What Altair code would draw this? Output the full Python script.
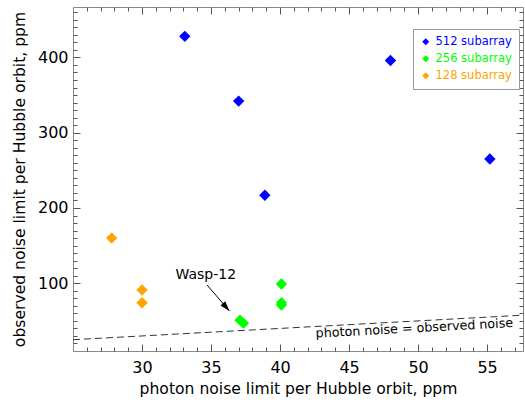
import altair as alt
import pandas as pd

# --- data -------------------------------------------------------------
x512 = [33.1, 37.0, 38.9, 48.0, 55.2]
y512 = [428, 342, 217, 396, 265]
x256 = [37.1, 37.35, 40.1, 40.1, 40.1]
y256 = [51, 47, 99, 74, 71]
x128 = [27.8, 30.0, 30.0]
y128 = [160, 91, 74]
series = ["512 subarray", "256 subarray", "128 subarray"]
colors = ["#0000ff", "#00ff00", "#ffa500"]

x_domain = [25, 57.6]
y_domain = [10, 467]
x_major = [30, 35, 40, 45, 50, 55]
x_minor = [v for v in range(26, 58) if v % 5]
y_major = [100, 200, 300, 400]
y_minor = [v for v in range(20, 467, 10) if v % 100]

# one-to-one reference line
ref_x = [25, 57.6]
ref_label = "photon noise = observed noise"
ref_label_pos = [49.73, 40.2]

# annotation for Wasp-12
wasp_text = "Wasp-12"
wasp_text_pos = [34.62, 110.5]
arrow_x = [34.71, 36.33]
arrow_y = [97.7, 63.2]

FONT = "DejaVu Sans"

pts = pd.DataFrame(
    {
        "x": x512 + x256 + x128,
        "y": y512 + y256 + y128,
        "s": [series[0]] * len(x512) + [series[1]] * len(x256) + [series[2]] * len(x128),
    }
)
ref = pd.DataFrame({"x": ref_x, "y": ref_x})
ref_lab = pd.DataFrame({"x": [ref_label_pos[0]], "y": [ref_label_pos[1]], "t": [ref_label]})
wasp = pd.DataFrame({"x": [wasp_text_pos[0]], "y": [wasp_text_pos[1]], "t": [wasp_text]})
arrow = pd.DataFrame({"x": [arrow_x[0]], "x2": [arrow_x[1]], "y": [arrow_y[0]], "y2": [arrow_y[1]]})
head = pd.DataFrame({"x": [arrow_x[1]], "y": [arrow_y[1]]})

xs = alt.Scale(domain=x_domain, nice=False, zero=False)
ys = alt.Scale(domain=y_domain, nice=False, zero=False)

# legend labels take the colour of their series
label_color_expr = " : ".join(
    f"datum.value === '{s}' ? '{c}'" for s, c in zip(series, colors)
) + " : 'black'"


def tick_axis(orient, values, size, **kw):
    return alt.Axis(
        orient=orient, values=values, offset=-size, tickSize=size,
        labels=False, title=None, domain=False, grid=False, **kw
    )


# main axes with labels and titles, major ticks drawn inward
x_main = alt.Axis(
    orient="bottom", values=x_major, offset=-7, tickSize=7, domain=False, grid=False,
    labelPadding=8, labelFontSize=16, labelFont=FONT, labelColor="black",
    title="photon noise limit per Hubble orbit, ppm", titleFont=FONT,
    titleFontSize=15.6, titleFontWeight="normal", titleColor="black", titlePadding=6,
)
y_main = alt.Axis(
    orient="left", values=y_major, offset=-7, tickSize=7, domain=False, grid=False,
    labelPadding=5, labelFontSize=16, labelFont=FONT, labelColor="black",
    title="observed noise limit per Hubble orbit, ppm", titleFont=FONT,
    titleFontSize=15.6, titleFontWeight="normal", titleColor="black", titlePadding=10,
)

ref_line = alt.Chart(ref).mark_line(
    color="#333333", strokeWidth=1, strokeDash=[7, 4]
).encode(
    x=alt.X("x:Q", scale=xs, axis=x_main),
    y=alt.Y("y:Q", scale=ys, axis=y_main),
)

points = alt.Chart(pts).mark_point(
    shape="diamond", filled=True, size=130, opacity=1
).encode(
    x=alt.X("x:Q", scale=xs, axis=tick_axis("bottom", x_minor, 4)),
    y=alt.Y("y:Q", scale=ys, axis=tick_axis("left", y_minor, 4)),
    color=alt.Color(
        "s:N",
        scale=alt.Scale(domain=series, range=colors),
        legend=alt.Legend(
            title=None, orient="none", legendX=340, legendY=22,
            symbolType="diamond", symbolSize=50, symbolStrokeWidth=0,
            labelFont=FONT, labelFontSize=11.5, labelLimit=200, labelOffset=4,
            labelColor=alt.ExprRef(label_color_expr),
            rowPadding=4, padding=7, fillColor="white", strokeColor="#999999",
        ),
    ),
)

ref_text = alt.Chart(ref_lab).mark_text(
    font=FONT, fontSize=12.7, angle=356.9, align="center", baseline="middle", color="black"
).encode(
    x=alt.X("x:Q", scale=xs, axis=tick_axis("top", x_major, 7)),
    y=alt.Y("y:Q", scale=ys, axis=tick_axis("right", y_major, 7)),
    text="t:N",
)

wasp_label = alt.Chart(wasp).mark_text(
    font=FONT, fontSize=14, align="center", baseline="middle", color="black"
).encode(
    x=alt.X("x:Q", scale=xs, axis=tick_axis("top", x_minor, 4)),
    y=alt.Y("y:Q", scale=ys, axis=tick_axis("right", y_minor, 4)),
    text="t:N",
)

arrow_line = alt.Chart(arrow).mark_rule(color="black", strokeWidth=1).encode(
    x=alt.X("x:Q", scale=xs, axis=None),
    x2="x2:Q",
    y=alt.Y("y:Q", scale=ys, axis=None),
    y2="y2:Q",
)

arrow_head = alt.Chart(head).mark_point(
    shape="M0,0L-1,-0.32L-1,0.32Z", filled=True, size=400, angle=49,
    color="black", opacity=1,
).encode(
    x=alt.X("x:Q", scale=xs, axis=None),
    y=alt.Y("y:Q", scale=ys, axis=None),
)

chart = (
    alt.layer(ref_line, points, ref_text, wasp_label, arrow_line, arrow_head)
    .resolve_axis(x="independent", y="independent")
    .properties(
        width=450, height=344,
        autosize=alt.AutoSizeParams(type="none"),
        padding={"left": 73, "top": 7, "right": 2, "bottom": 53},
    )
    .configure_view(stroke="#888888", strokeWidth=1)
    .configure_axis(tickColor="#555555", tickWidth=1)
)

chart.save("out.html", embed_options={"renderer": "svg", "actions": False})
